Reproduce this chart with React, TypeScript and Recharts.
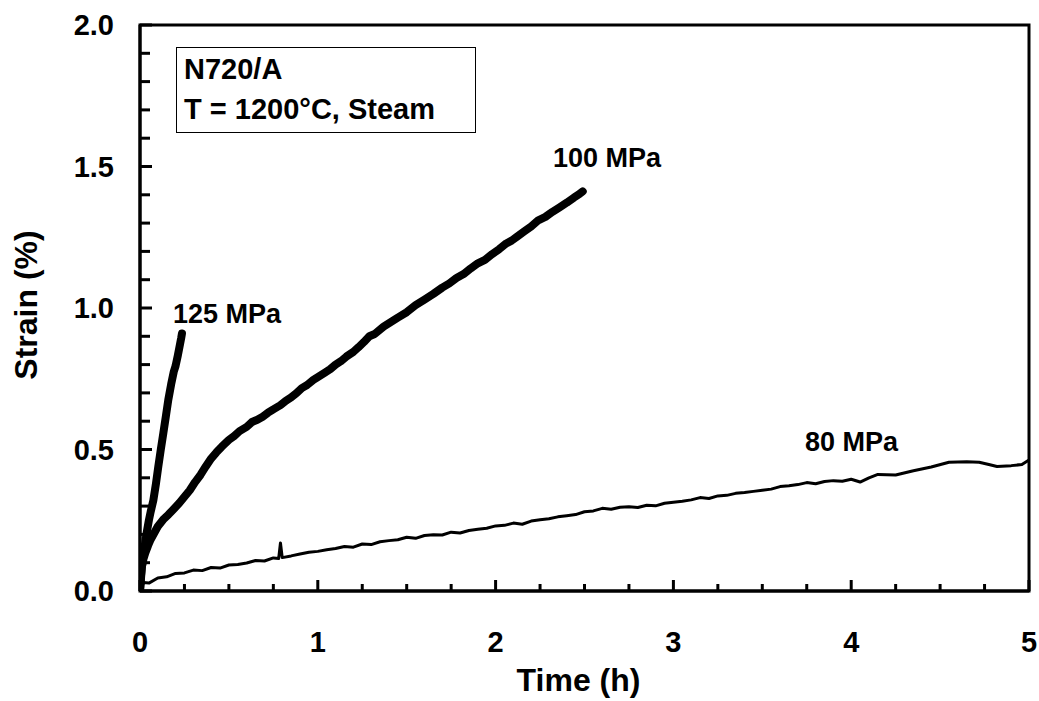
import { LineChart, Line, XAxis, YAxis, ReferenceArea } from 'recharts';

// 125 MPa creep curve
const t125 = [0, 0.005, 0.01, 0.02, 0.03, 0.037, 0.05, 0.06, 0.075, 0.09, 0.103, 0.117, 0.131, 0.145, 0.159, 0.175, 0.19, 0.2, 0.212, 0.225, 0.232, 0.236];
const s125 = [0, 0.04, 0.08, 0.13, 0.175, 0.204, 0.25, 0.28, 0.32, 0.38, 0.44, 0.5, 0.557, 0.615, 0.675, 0.73, 0.775, 0.795, 0.83, 0.872, 0.895, 0.91];

// 100 MPa creep curve
const t100 = [
  0, 0.005, 0.01, 0.02, 0.03, 0.045, 0.06, 0.08, 0.1, 0.13, 0.16, 0.19, 0.22, 0.25, 0.28, 0.31, 0.34, 0.37, 0.4, 0.43,
  0.46, 0.5, 0.53, 0.56, 0.6, 0.63, 0.66, 0.69, 0.72, 0.75, 0.79, 0.82, 0.85, 0.88, 0.91, 0.94, 0.975, 1.0, 1.04, 1.07,
  1.1, 1.13, 1.16, 1.2, 1.23, 1.26, 1.29, 1.32, 1.37, 1.41, 1.45, 1.5, 1.55, 1.6, 1.65, 1.7, 1.74, 1.78, 1.82, 1.86,
  1.9, 1.94, 1.98, 2.02, 2.06, 2.09, 2.12, 2.16, 2.2, 2.24, 2.28, 2.32, 2.36, 2.4, 2.44, 2.47, 2.49,
];
const s100 = [
  0, 0.05, 0.085, 0.115, 0.135, 0.16, 0.182, 0.205, 0.228, 0.252, 0.27, 0.29, 0.31, 0.333, 0.356, 0.385, 0.41, 0.44, 0.468, 0.49,
  0.51, 0.534, 0.548, 0.565, 0.58, 0.597, 0.605, 0.616, 0.63, 0.642, 0.657, 0.672, 0.684, 0.699, 0.717, 0.728, 0.746, 0.756, 0.772, 0.784,
  0.8, 0.812, 0.828, 0.845, 0.862, 0.88, 0.9, 0.908, 0.934, 0.95, 0.966, 0.985, 1.01, 1.03, 1.05, 1.072, 1.087, 1.106, 1.12, 1.14,
  1.158, 1.17, 1.19, 1.208, 1.228, 1.238, 1.252, 1.27, 1.288, 1.31, 1.322, 1.34, 1.356, 1.372, 1.39, 1.402, 1.412,
];

// 80 MPa creep curve (noisy until ~4 h)
const t80 = [
  0, 0.02, 0.05, 0.1, 0.15, 0.2, 0.25, 0.3, 0.35, 0.4, 0.45, 0.5, 0.55, 0.6, 0.65, 0.7, 0.75, 0.78, 0.79, 0.8,
  0.85, 0.9, 0.95, 1.0, 1.05, 1.1, 1.15, 1.2, 1.25, 1.3, 1.35, 1.4, 1.45, 1.5, 1.55, 1.6, 1.65, 1.7, 1.75, 1.8,
  1.85, 1.9, 1.95, 2.0, 2.05, 2.1, 2.15, 2.2, 2.25, 2.3, 2.35, 2.4, 2.45, 2.5, 2.55, 2.6, 2.65, 2.7, 2.75, 2.8,
  2.85, 2.9, 2.95, 3.0, 3.05, 3.1, 3.15, 3.2, 3.25, 3.3, 3.35, 3.4, 3.45, 3.5, 3.55, 3.6, 3.65, 3.7, 3.75, 3.8,
  3.85, 3.9, 3.95, 4.0, 4.05, 4.1, 4.15, 4.25, 4.35, 4.45, 4.55, 4.65, 4.72, 4.78, 4.82, 4.9, 4.96, 5.0,
];
const s80 = [
  0, 0.03, 0.028, 0.046, 0.05, 0.062, 0.064, 0.074, 0.072, 0.083, 0.081, 0.092, 0.094, 0.099, 0.108, 0.106, 0.117, 0.115, 0.17, 0.118,
  0.124, 0.131, 0.137, 0.14, 0.146, 0.15, 0.157, 0.155, 0.166, 0.164, 0.174, 0.178, 0.181, 0.19, 0.186, 0.196, 0.199, 0.198, 0.208, 0.205,
  0.214, 0.218, 0.222, 0.23, 0.232, 0.24, 0.236, 0.247, 0.252, 0.255, 0.262, 0.266, 0.27, 0.28, 0.283, 0.292, 0.289, 0.296, 0.298, 0.295,
  0.303, 0.301, 0.31, 0.314, 0.317, 0.322, 0.33, 0.327, 0.336, 0.338, 0.345, 0.348, 0.352, 0.356, 0.36, 0.369, 0.372, 0.376, 0.383, 0.379,
  0.387, 0.39, 0.388, 0.395, 0.385, 0.4, 0.412, 0.41, 0.425, 0.438, 0.455, 0.457, 0.455, 0.446, 0.44, 0.443, 0.447, 0.463,
];

const xTicks = [0, 0.25, 0.5, 0.75, 1, 1.25, 1.5, 1.75, 2, 2.25, 2.5, 2.75, 3, 3.25, 3.5, 3.75, 4, 4.25, 4.5, 4.75, 5];
const yTicks = [0, 0.1, 0.2, 0.3, 0.4, 0.5, 0.6, 0.7, 0.8, 0.9, 1, 1.1, 1.2, 1.3, 1.4, 1.5, 1.6, 1.7, 1.8, 1.9, 2];

const zip = (t: number[], s: number[]) => t.map((v, i) => ({ t: v, s: s[i] }));
const d125 = zip(t125, s125);
const d100 = zip(t100, s100);
const d80 = zip(t80, s80);

const FONT = '"Liberation Sans", Arial, sans-serif';

const XTick = (props: any) => {
  const { x, y, payload } = props;
  const v = payload.value as number;
  const major = Math.abs(v - Math.round(v)) < 1e-6;
  return (
    <g>
      <line x1={x} x2={x} y1={y} y2={y - (major ? 11 : 7)} stroke="#000" strokeWidth={3} />
      {major && (
        <text x={x} y={y + 61} textAnchor="middle" fontFamily={FONT} fontWeight="bold" fontSize={29} fill="#000">
          {v}
        </text>
      )}
    </g>
  );
};

const YTick = (props: any) => {
  const { x, y, payload } = props;
  const v = payload.value as number;
  const major = Math.abs(v * 2 - Math.round(v * 2)) < 1e-6;
  return (
    <g>
      <line x1={x} x2={x + (major ? 12 : 10)} y1={y} y2={y} stroke="#000" strokeWidth={3} />
      {major && (
        <text x={x - 26} y={y + 10} textAnchor="end" fontFamily={FONT} fontWeight="bold" fontSize={29} fill="#000">
          {v.toFixed(1)}
        </text>
      )}
    </g>
  );
};

const lbl: React.CSSProperties = {
  position: 'absolute',
  fontFamily: FONT,
  fontWeight: 'bold',
  fontSize: 27,
  lineHeight: '27px',
  whiteSpace: 'nowrap',
  color: '#000',
};

export default function App() {
  return (
    <div style={{ position: 'relative', width: 1039, height: 701 }}>
      <style>{'body{margin:0}'}</style>
      <LineChart width={1039} height={701} margin={{ top: 25, right: 10, left: 0, bottom: 0 }}>
        <XAxis
          dataKey="t"
          type="number"
          domain={[0, 5]}
          ticks={xTicks}
          interval={0}
          tickSize={0}
          tickMargin={0}
          tickLine={false}
          tick={<XTick />}
          axisLine={{ stroke: '#000', strokeWidth: 3 }}
          height={110}
          allowDataOverflow
          label={{
            content: (p: any) => (
              <text
                x={p.viewBox.x + p.viewBox.width / 2 - 6}
                y={p.viewBox.y + 100}
                textAnchor="middle"
                fontFamily={FONT}
                fontWeight="bold"
                fontSize={32}
                fill="#000"
              >
                Time (h)
              </text>
            ),
          }}
        />
        <YAxis
          type="number"
          domain={[0, 2]}
          ticks={yTicks}
          interval={0}
          tickSize={0}
          tickMargin={0}
          tickLine={false}
          tick={<YTick />}
          axisLine={{ stroke: '#000', strokeWidth: 3 }}
          width={140}
          allowDataOverflow
          label={{
            content: (p: any) => {
              const cx = 37;
              const cy = p.viewBox.y + p.viewBox.height / 2 - 3;
              return (
                <text
                  x={cx}
                  y={cy}
                  transform={`rotate(-90, ${cx}, ${cy})`}
                  textAnchor="middle"
                  fontFamily={FONT}
                  fontWeight="bold"
                  fontSize={32}
                  fill="#000"
                >
                  Strain (%)
                </text>
              );
            },
          }}
        />
        <ReferenceArea x1={0} x2={5} y1={0} y2={2} fill="none" stroke="#000" strokeWidth={3} fillOpacity={0} />
        <Line data={d80} dataKey="s" type="linear" stroke="#000" strokeWidth={3} strokeLinejoin="round" dot={false} isAnimationActive={false} />
        <Line data={d100} dataKey="s" type="linear" stroke="#000" strokeWidth={8} strokeLinecap="round" strokeLinejoin="round" dot={false} isAnimationActive={false} />
        <Line data={d125} dataKey="s" type="linear" stroke="#000" strokeWidth={8} strokeLinecap="round" strokeLinejoin="round" dot={false} isAnimationActive={false} />
      </LineChart>

      <div
        style={{
          position: 'absolute',
          left: 176,
          top: 47,
          width: 291,
          height: 83,
          border: '1px solid #000',
          background: '#fff',
          fontFamily: FONT,
          fontWeight: 'bold',
          fontSize: 29,
          lineHeight: '40px',
          paddingLeft: 7,
          paddingTop: 1,
          boxSizing: 'content-box',
          whiteSpace: 'nowrap',
        }}
      >
        <div>N720/A</div>
        <div>T = 1200°C, Steam</div>
      </div>

      <div style={{ ...lbl, left: 173, top: 301 }}>125 MPa</div>
      <div style={{ ...lbl, left: 553, top: 145 }}>100 MPa</div>
      <div style={{ ...lbl, left: 805, top: 429 }}>80 MPa</div>
    </div>
  );
}
